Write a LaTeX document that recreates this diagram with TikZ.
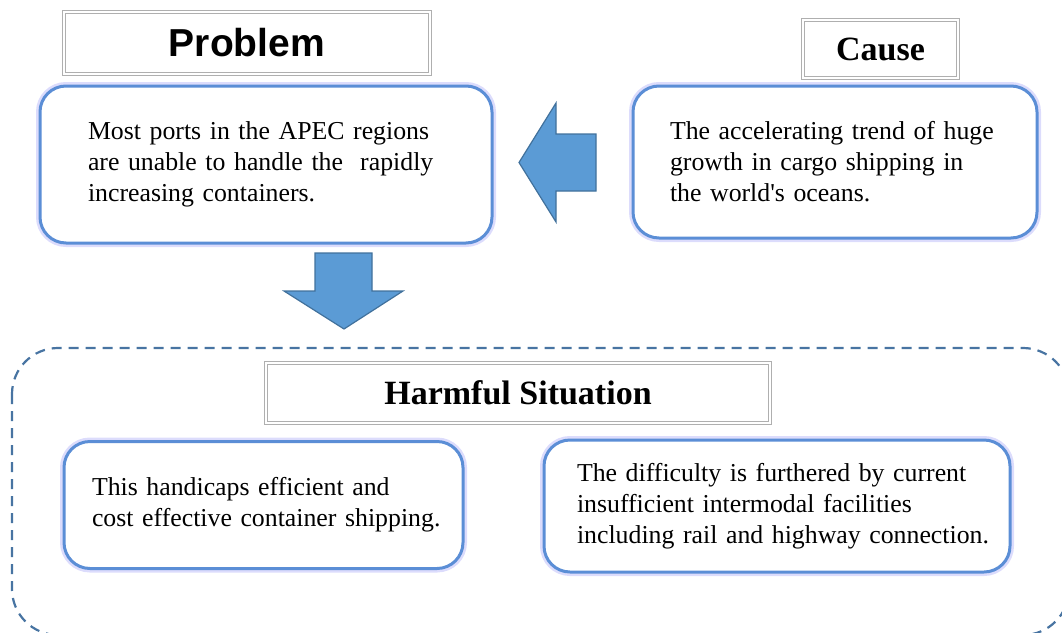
\documentclass[tikz,border=0pt]{standalone}
\usepackage{fontspec}
\setmainfont{Liberation Serif}
\newfontfamily\headsans{Liberation Sans}

\definecolor{boxblue}{RGB}{91,142,214}
\definecolor{glowblue}{RGB}{196,196,250}
\definecolor{arrowfill}{RGB}{91,155,213}
\definecolor{arrowline}{RGB}{65,113,156}
\definecolor{dashblue}{RGB}{72,116,162}
\definecolor{titlegray}{RGB}{175,175,175}

\tikzset{
  bluebox/.style={draw=boxblue, line width=3pt, rounded corners=26pt, fill=white,
    align=left, inner sep=0pt, font=\fontsize{25.8}{31}\selectfont,
    execute at begin node={\hyphenpenalty=10000\exhyphenpenalty=10000\hbadness=10000\hfuzz=30pt},
    preaction={draw=glowblue, line width=8pt, opacity=0.6}},
  titlebox/.style={draw=titlegray, line width=0.8pt, double=white, double distance=1.6pt,
    inner sep=0pt, fill=white},
  serifhead/.style={font=\fontsize{34}{40}\selectfont\bfseries},
  blockarrow/.style={fill=arrowfill, draw=arrowline, line width=1.2pt, line join=miter},
}

\begin{document}
\begin{tikzpicture}[x=1pt,y=1pt]
            \useasboundingbox (0,0) rectangle (1062,-632);
            % top row
            \node [titlebox, minimum width=366pt, minimum height=62pt,
                   font=\headsans\bfseries\fontsize{39}{44}\selectfont] (probtitle) at (247,-43) {Problem};
            \node [bluebox, minimum width=452pt, minimum height=157pt, text width=356pt] (problem) at (266,-164.5)
                  {Most ports in the APEC regions\\ are unable to handle the\ \ rapidly\\ increasing containers.};
            \node [titlebox, serifhead, minimum width=155pt, minimum height=58pt] (causetitle) at (880.5,-49) {Cause};
            \node [bluebox, minimum width=404pt, minimum height=152pt, text width=330pt] (cause) at (835,-162)
                  {\mbox{The accelerating trend of huge}\\ growth in cargo shipping in\\ the world\textquotesingle s oceans.};
            % block arrows
            \draw [blockarrow] (596,-134) -- (556,-134) -- (556,-103) -- (519,-162.5)
                  -- (556,-222) -- (556,-191) -- (596,-191) -- cycle;
            \draw [blockarrow] (315,-253) -- (372,-253) -- (372,-291) -- (403,-291)
                  -- (344,-329) -- (284,-291) -- (315,-291) -- cycle;
            % lower part
            \draw [dashblue, line width=2.2pt, dash pattern=on 10pt off 7pt, rounded corners=46pt]
                  (12,-348) rectangle (1069,-635);
            \node [titlebox, serifhead, minimum width=504pt, minimum height=60pt] (harmtitle) at (518,-393) {Harmful Situation};
            \node [bluebox, minimum width=399pt, minimum height=127pt, text width=343pt] (handicap) at (263.5,-505)
                  {This handicaps efficient and\\ \mbox{cost effective container shipping.}};
            \node [bluebox, minimum width=466pt, minimum height=132pt, text width=400pt] (difficulty) at (777,-506)
                  {\mbox{The difficulty is furthered by current}\\ insufficient intermodal facilities\\ \mbox{including rail and highway connection.}};
\end{tikzpicture}
\end{document}
